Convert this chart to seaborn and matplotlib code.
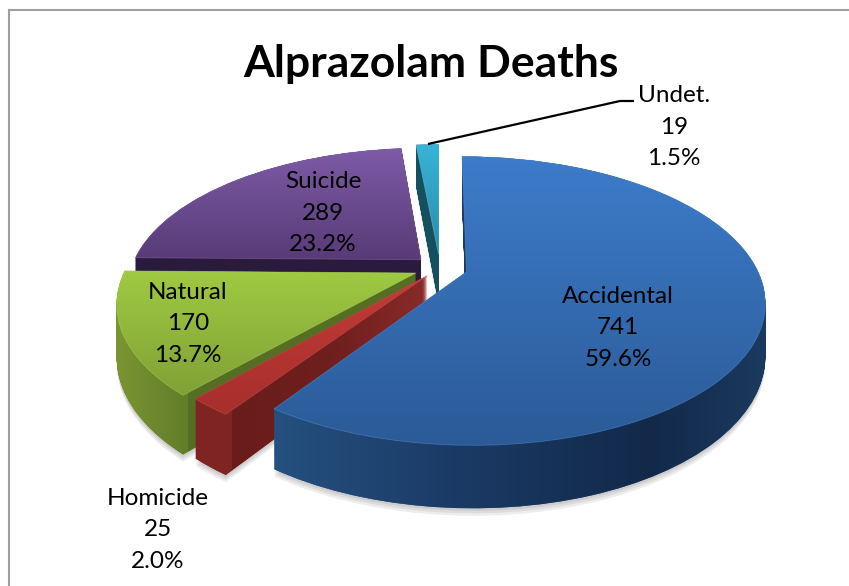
import numpy as np
import seaborn as sns
import matplotlib
matplotlib.use('Agg')
import matplotlib.pyplot as plt
from matplotlib.path import Path
from matplotlib.transforms import Transform

# Data
categories = ['Accidental', 'Homicide', 'Natural', 'Suicide', 'Undet.']
deaths = [741, 25, 170, 289, 19]
percents = [59.6, 2.0, 13.7, 23.2, 1.5]

explode = [0.095, 0.07, 0.09, 0.09, 0.10]
label_pos = [(618, 328), (158, 530), (188, 324), (323, 213), (674, 127)]

# Colours per slice: (y, colour) stops for the top face, (x, colour) stops for the wall
top_stops = [
    [(155, '#3d7ccb'), (450, '#2b5a96')],
    [(290, '#c03a36'), (420, '#a52e2c')],
    [(270, '#9fca42'), (400, '#7f9f35')],
    [(147, '#7f5ba8'), (262, '#563a75')],
    [(145, '#36b4d6'), (255, '#2b8ba8')],
]
wall_stops = [
    [(275, '#25507f'), (450, '#1b3b66'), (650, '#12294a'), (770, '#1c3a60')],
    [(195, '#7f2422'), (231, '#7f2422'), (232, '#6a1c1b'), (330, '#6e1f1e'), (430, '#8a2b29')],
    [(115, '#7a9632'), (187, '#627d29'), (188, '#566e24'), (420, '#566e24')],
    [(130, '#2a1a3e'), (420, '#2a1a3e')],
    [(410, '#14505f'), (445, '#14505f')],
]
edge_colors = ['#5f9be0', '#d85a55', '#b5dc60', '#9a7cc0', '#7fd6ea']
paint_order = [4, 3, 2, 1, 0]

W, H = 849, 586
CX, CY, RX, KY, C = 440, 268, 290, 137, 0.2
DEPTH = 50


class Persp(Transform):
    # squashed pie with the near side bigger, z pushes the layer down
    input_dims = 2
    output_dims = 2

    def __init__(self, z=0.0):
        super().__init__()
        self.z = z

    def transform_non_affine(self, values):
        values = np.asarray(values)
        w = 1 + C * values[:, 1]
        return np.column_stack([CX + values[:, 0] * RX / w, CY + (self.z - KY * values[:, 1]) / w])


def gradient(stops, vertical):
    pos = [s[0] for s in stops]
    rgb = np.array([matplotlib.colors.to_rgb(s[1]) for s in stops])
    n = H if vertical else W
    ramp = np.column_stack([np.interp(np.arange(n), pos, rgb[:, i]) for i in range(3)])
    if vertical:
        return np.repeat(ramp[:, None, :], W, axis=1)
    return np.repeat(ramp[None, :, :], H, axis=0)


sns.set_style('white')
plt.rcParams['font.family'] = ['Lato', 'DejaVu Sans']

fig = plt.figure(figsize=(W / 100, H / 100), dpi=100)
ax = fig.add_axes([0, 0, 1, 1])
palette = sns.color_palette([s[0][1] for s in wall_stops])

z_base = {idx: 10 * (rank + 1) for rank, idx in enumerate(paint_order)}

# Soft shadow under the pie
for z in [DEPTH + 2, DEPTH + 4, DEPTH + 6]:
    wedges, _ = ax.pie(deaths, explode=explode, colors=['black'] * 5, startangle=90, counterclock=False)
    for wedge in wedges:
        wedge.set_transform(Persp(z) + ax.transData)
        wedge.set_alpha(0.07)
        wedge.set_linewidth(0)
        wedge.set_zorder(1)

# Walls: stacked pies, back to front
layers = np.linspace(DEPTH, 0, 60)
wall_paths = {i: [] for i in range(len(deaths))}
for z in layers:
    wedges, _ = ax.pie(deaths, explode=explode, colors=palette, startangle=90, counterclock=False)
    persp = Persp(z)
    for i, wedge in enumerate(wedges):
        wedge.set_transform(persp + ax.transData)
        wedge.set_zorder(z_base[i])
        wedge.set_linewidth(0)
        wall_paths[i].append(persp.transform_path(wedge.get_path()))

for i in range(len(deaths)):
    im = ax.imshow(gradient(wall_stops[i], False), extent=(0, W, H, 0), aspect='auto', zorder=z_base[i] + 1)
    im.set_clip_path(Path.make_compound_path(*wall_paths[i]), transform=ax.transData)

# Top faces
wedges, _ = ax.pie(deaths, explode=explode, colors=palette, startangle=90, counterclock=False)
for i, wedge in enumerate(wedges):
    wedge.set_transform(Persp(0) + ax.transData)
    im = ax.imshow(gradient(top_stops[i], True), extent=(0, W, H, 0), aspect='auto', zorder=z_base[i] + 3)
    im.set_clip_path(wedge)
    wedge.set_facecolor('none')
    wedge.set_edgecolor(matplotlib.colors.to_rgba(edge_colors[i], 0.45))
    wedge.set_linewidth(0.6)
    wedge.set_zorder(z_base[i] + 4)

# Leader line for the small slice
ax.plot([428, 620, 634], [144, 101, 101], color='black', lw=1.6, zorder=100, solid_capstyle='butt')

# Labels
for name, count, pct, pos in zip(categories, deaths, percents, label_pos):
    ax.text(pos[0], pos[1], f'{name}\n{count}\n{pct:.1f}%', ha='center', va='center', fontsize=17.5,
            linespacing=1.62, color='black', zorder=101)
ax.text(431, 64, 'Alprazolam Deaths', ha='center', va='center', fontsize=32, fontweight='bold', color='black',
        zorder=101)

# Frame of the original chart area
ax.plot([9.5, 9.5, W], [H, 9.5, 9.5], color='#a0a0a0', lw=1.5, zorder=102, solid_joinstyle='miter')

ax.set_aspect('auto')
ax.set_xlim(0, W)
ax.set_ylim(H, 0)
ax.axis('off')

plt.savefig('out.png', dpi=100)
plt.close()
